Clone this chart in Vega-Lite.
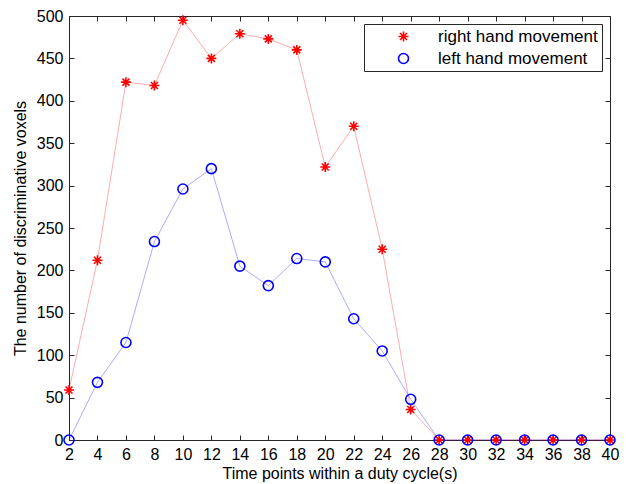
{
  "$schema": "https://vega.github.io/schema/vega-lite/v6.json",
  "width": 541,
  "height": 424,
  "autosize": {"type": "none"},
  "padding": {"left": 69, "top": 16, "right": 17, "bottom": 44},
  "background": "white",
  "config": {
    "font": "Liberation Sans",
    "view": {"stroke": "#262626", "strokeWidth": 1},
    "axis": {
      "grid": false,
      "labelFontSize": 16,
      "titleFontSize": 16,
      "titleFontWeight": "normal",
      "labelColor": "#000000",
      "titleColor": "#000000",
      "domainColor": "#262626",
      "tickColor": "#262626",
      "tickSize": -5
    },
    "legend": {
      "title": null,
      "orient": "top-right",
      "offset": 8,
      "padding": 4,
      "strokeColor": "#262626",
      "fillColor": "#ffffff",
      "labelFontSize": 17,
      "labelColor": "#000000",
      "symbolOffset": 27,
      "labelOffset": 26,
      "rowPadding": 4,
      "symbolSize": 100,
      "symbolStrokeWidth": 1.6,
      "symbolOpacity": 1
    }
  },
  "data": {
    "values": [
      {"series": "right hand movement", "t": 2, "v": 59},
      {"series": "right hand movement", "t": 4, "v": 212},
      {"series": "right hand movement", "t": 6, "v": 422},
      {"series": "right hand movement", "t": 8, "v": 418},
      {"series": "right hand movement", "t": 10, "v": 495},
      {"series": "right hand movement", "t": 12, "v": 450},
      {"series": "right hand movement", "t": 14, "v": 479},
      {"series": "right hand movement", "t": 16, "v": 473},
      {"series": "right hand movement", "t": 18, "v": 460},
      {"series": "right hand movement", "t": 20, "v": 322},
      {"series": "right hand movement", "t": 22, "v": 370},
      {"series": "right hand movement", "t": 24, "v": 225},
      {"series": "right hand movement", "t": 26, "v": 36},
      {"series": "right hand movement", "t": 28, "v": 0},
      {"series": "right hand movement", "t": 30, "v": 0},
      {"series": "right hand movement", "t": 32, "v": 0},
      {"series": "right hand movement", "t": 34, "v": 0},
      {"series": "right hand movement", "t": 36, "v": 0},
      {"series": "right hand movement", "t": 38, "v": 0},
      {"series": "right hand movement", "t": 40, "v": 0},
      {"series": "left hand movement", "t": 2, "v": 0},
      {"series": "left hand movement", "t": 4, "v": 68},
      {"series": "left hand movement", "t": 6, "v": 115},
      {"series": "left hand movement", "t": 8, "v": 234},
      {"series": "left hand movement", "t": 10, "v": 296},
      {"series": "left hand movement", "t": 12, "v": 320},
      {"series": "left hand movement", "t": 14, "v": 205},
      {"series": "left hand movement", "t": 16, "v": 182},
      {"series": "left hand movement", "t": 18, "v": 214},
      {"series": "left hand movement", "t": 20, "v": 210},
      {"series": "left hand movement", "t": 22, "v": 143},
      {"series": "left hand movement", "t": 24, "v": 105},
      {"series": "left hand movement", "t": 26, "v": 48},
      {"series": "left hand movement", "t": 28, "v": 0},
      {"series": "left hand movement", "t": 30, "v": 0},
      {"series": "left hand movement", "t": 32, "v": 0},
      {"series": "left hand movement", "t": 34, "v": 0},
      {"series": "left hand movement", "t": 36, "v": 0},
      {"series": "left hand movement", "t": 38, "v": 0},
      {"series": "left hand movement", "t": 40, "v": 0}
    ]
  },
  "layer": [
    {
      "mark": {"type": "line", "strokeWidth": 1, "opacity": 0.33},
      "encoding": {
        "x": {
          "field": "t", "type": "quantitative",
          "scale": {"domain": [2, 40], "nice": false, "zero": false},
          "axis": {"orient": "bottom", "values": [2,4,6,8,10,12,14,16,18,20,22,24,26,28,30,32,34,36,38,40], "labelPadding": 11, "titlePadding": 3, "title": "Time points within a duty cycle(s)", "labelFlush": false, "labelOverlap": false}
        },
        "y": {
          "field": "v", "type": "quantitative",
          "scale": {"domain": [0, 500], "nice": false},
          "axis": {"orient": "left", "values": [0,50,100,150,200,250,300,350,400,450,500], "labelPadding": 11, "titlePadding": 8, "title": "The number of discriminative voxels", "labelFlush": false, "labelOverlap": false}
        },
        "color": {
          "field": "series", "type": "nominal",
          "scale": {"domain": ["right hand movement", "left hand movement"], "range": ["#ff0000", "#0000ff"]},
          "legend": {
            "encode": {
              "symbols": {
                "update": {
                  "opacity": {"value": 1},
                  "strokeOpacity": {"value": 1},
                  "fill": {"value": "transparent"}
                }
              }
            }
          }
        }
      }
    },
    {
      "mark": {"type": "point", "filled": false, "strokeWidth": 1.6, "size": 100, "opacity": 1},
      "encoding": {
        "x": {"field": "t", "type": "quantitative", "scale": {"domain": [2, 40], "nice": false, "zero": false}, "axis": null},
        "y": {"field": "v", "type": "quantitative", "scale": {"domain": [0, 500], "nice": false}, "axis": null},
        "color": {
          "field": "series", "type": "nominal",
          "scale": {"domain": ["right hand movement", "left hand movement"], "range": ["#ff0000", "#0000ff"]},
          "legend": {
            "encode": {
              "symbols": {
                "update": {
                  "opacity": {"value": 1},
                  "strokeOpacity": {"value": 1},
                  "fill": {"value": "transparent"}
                }
              }
            }
          }
        },
        "shape": {
          "field": "series", "type": "nominal",
          "scale": {"domain": ["right hand movement", "left hand movement"], "range": ["M-1,0L1,0M0,-1L0,1M-0.7,-0.7L0.7,0.7M-0.7,0.7L0.7,-0.7", "circle"]}
        }
      }
    },
    {
      "mark": {"type": "point", "opacity": 0},
      "encoding": {
        "x": {"field": "t", "type": "quantitative", "scale": {"domain": [2, 40], "nice": false, "zero": false}, "axis": {"orient": "top", "values": [2,4,6,8,10,12,14,16,18,20,22,24,26,28,30,32,34,36,38,40], "labels": false, "title": null, "domain": false}},
        "y": {"field": "v", "type": "quantitative", "scale": {"domain": [0, 500], "nice": false}, "axis": {"orient": "right", "values": [0,50,100,150,200,250,300,350,400,450,500], "labels": false, "title": null, "domain": false}}
      }
    }
  ],
  "resolve": {"axis": {"x": "independent", "y": "independent"}}
}
